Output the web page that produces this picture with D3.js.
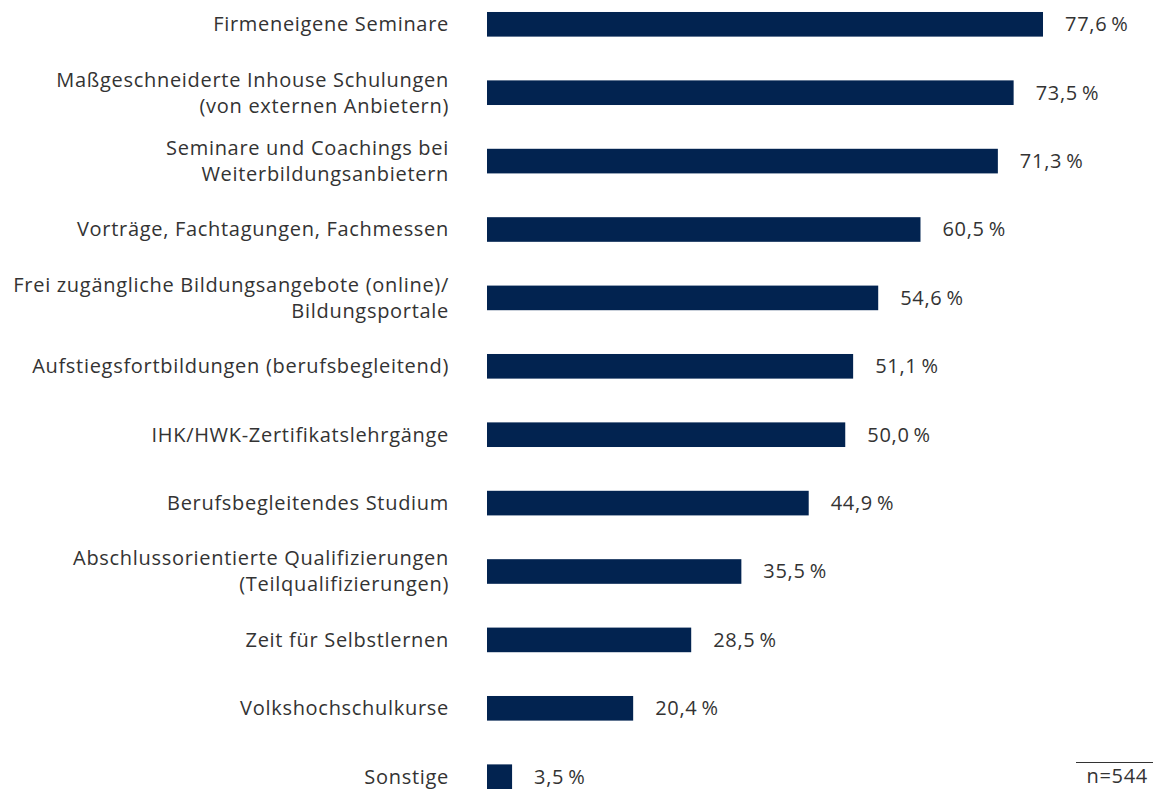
<!DOCTYPE html>
<html>
<head>
<meta charset="utf-8">
<script src="https://cdn.jsdelivr.net/npm/d3@7"></script>
<style>
    body { margin: 0; background: #fff; }
    svg text { font-family: "Source Sans Pro", "Open Sans", sans-serif; fill: #333; letter-spacing: 0.7px; }
</style>
</head>
<body>
<svg id="chart" width="1153" height="789"></svg>
<script>
var categories = [
    ["Firmeneigene Seminare"],
    ["Maßgeschneiderte Inhouse Schulungen", "(von externen Anbietern)"],
    ["Seminare und Coachings bei", "Weiterbildungsanbietern"],
    ["Vorträge, Fachtagungen, Fachmessen"],
    ["Frei zugängliche Bildungsangebote (online)/", "Bildungsportale"],
    ["Aufstiegsfortbildungen (berufsbegleitend)"],
    ["IHK/HWK-Zertifikatslehrgänge"],
    ["Berufsbegleitendes Studium"],
    ["Abschlussorientierte Qualifizierungen", "(Teilqualifizierungen)"],
    ["Zeit für Selbstlernen"],
    ["Volkshochschulkurse"],
    ["Sonstige"]
]
var values = [77.6, 73.5, 71.3, 60.5, 54.6, 51.1, 50.0, 44.9, 35.5, 28.5, 20.4, 3.5]
var sampleNote = "n=544"

var svg = d3.select("#chart")
var data = categories.map(function (c, i) {
    return { id: i, lines: c, value: values[i] }
})

// bars start at x=487, 77.6 % ends near 1043
var x = d3.scaleLinear().domain([0, 100]).range([487, 487 + 716.5])
var y = d3.scaleBand()
    .domain(data.map(d => d.id))
    .range([0, 12 * 68.4])
    .paddingInner(0.64)
    .paddingOuter(0.32)

var g = svg.append("g").attr("transform", "translate(0,-9.9)")
var fmt = d3.format(".1f")
var fs = 20

g.selectAll("rect")
    .data(data)
    .join("rect")
    .attr("x", x(0))
    .attr("y", d => y(d.id))
    .attr("width", d => x(d.value) - x(0))
    .attr("height", y.bandwidth())
    .attr("fill", "#022350")

// value labels
g.selectAll("text.val")
    .data(data)
    .join("text")
    .attr("class", "val")
    .attr("x", d => x(d.value) + 22)
    .attr("y", d => y(d.id) + y.bandwidth() / 2)
    .attr("dy", "0.35em")
    .style("font-size", fs + "px")
    .text(d => fmt(d.value).replace(".", ",") + "\u2009%")

// category labels, one or two lines
var lineH = 26
var labels = g.selectAll("text.cat")
    .data(data)
    .join("text")
    .attr("class", "cat")
    .attr("text-anchor", "end")
    .style("font-size", fs + "px")
    .attr("x", 449)
    .attr("y", d => y(d.id) + y.bandwidth() / 2)
labels.selectAll("tspan")
    .data(d => d.lines.map((t, i) => ({ t: t, i: i, n: d.lines.length })))
    .join("tspan")
    .attr("x", 449)
    .attr("dy", d => d.i == 0 ? ((0.35 * fs) - (d.n - 1) * lineH / 2) + "px" : lineH + "px")
    .text(d => d.t)

// sample size note
svg.append("line")
    .attr("x1", 1076).attr("x2", 1153)
    .attr("y1", 762.5).attr("y2", 762.5)
    .attr("stroke", "#333").attr("stroke-width", 1)
svg.append("text")
    .attr("x", 1148)
    .attr("y", 783)
    .attr("text-anchor", "end")
    .style("font-size", fs + "px")
    .text(sampleNote)
</script>
</body>
</html>
